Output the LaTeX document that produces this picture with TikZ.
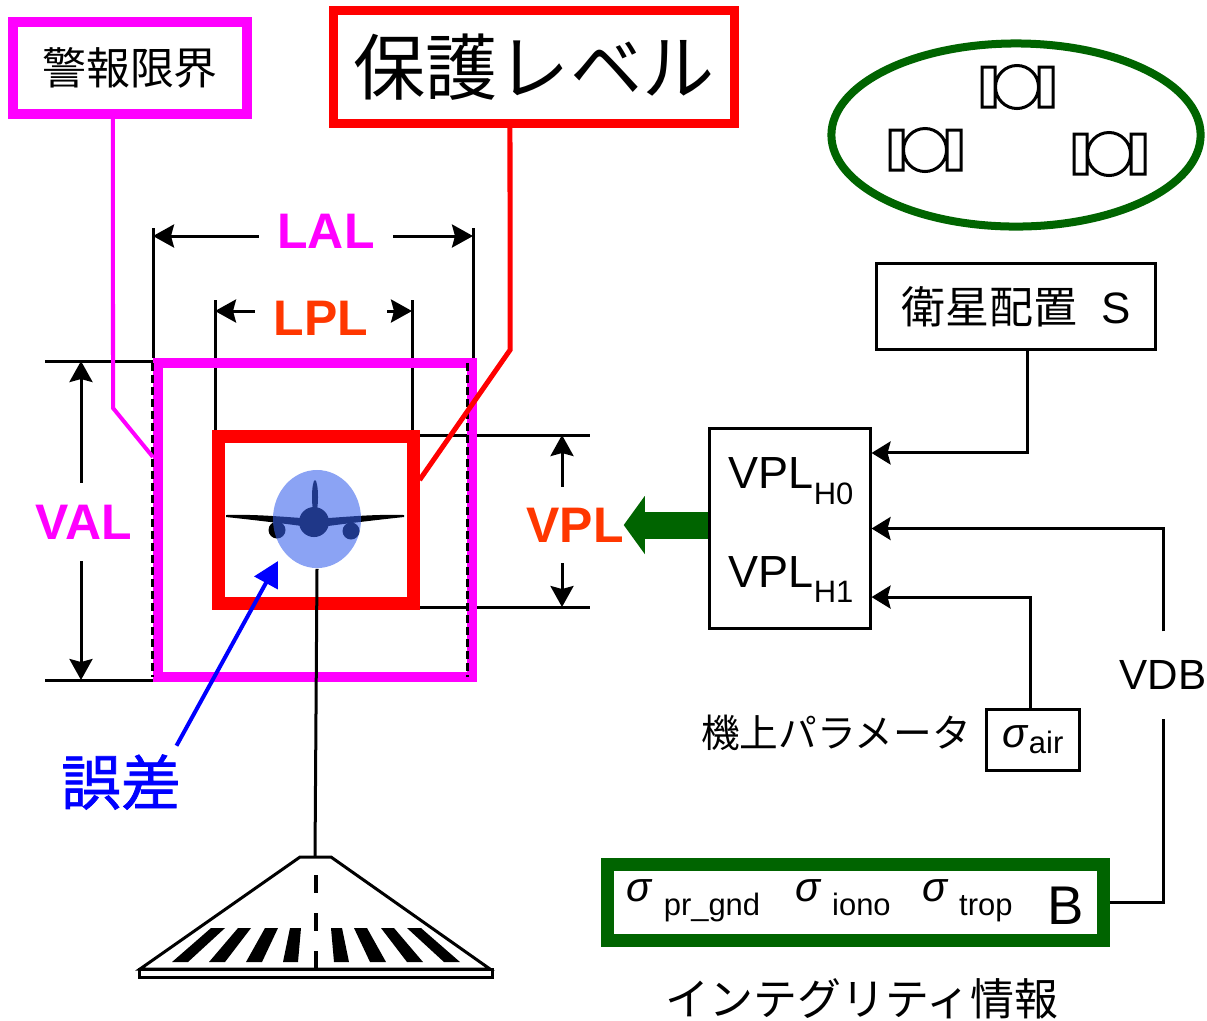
\documentclass[tikz,border=0pt]{standalone}
\usepackage{fontspec}
\setmainfont{Liberation Sans}
\newfontfamily\jp{Noto Sans CJK JP}
\newfontfamily\jpb{Noto Sans CJK JP}[FakeBold=1.2]
\usetikzlibrary{arrows.meta,shapes.geometric}
\definecolor{mag}{RGB}{255,0,255}
\definecolor{plred}{RGB}{255,0,0}
\definecolor{orred}{RGB}{255,55,0}
\definecolor{dgreen}{RGB}{0,100,0}
\definecolor{errblue}{RGB}{0,0,255}
\definecolor{blobblue}{RGB}{55,96,236}
\newcommand{\fs}[1]{\fontsize{#1}{#1}\selectfont}
\newcommand{\lowsub}[2]{\raisebox{#1}{\fs{8.8}#2}}
\newcommand{\sig}[1]{\raisebox{6.3pt}{\fs{11.8}\textit{σ}}\hspace{3pt}\raisebox{2.4pt}{\fs{8.8}#1}}
\tikzset{
  thinln/.style={line width=0.03cm},
  dim/.style={line width=0.03cm,
    {Stealth[length=0.21cm,width=0.23cm,inset=0.03cm]}-{Stealth[length=0.21cm,width=0.23cm,inset=0.03cm]}},
  feed/.style={line width=0.03cm, -{Stealth[length=0.19cm,width=0.23cm,inset=0.03cm]}},
  dimlbl/.style={fill=white, font=\bfseries\fs{14.2}, inner sep=0pt},
  plainbox/.style={draw, line width=0.03cm, inner sep=0pt},
}
\begin{document}
\begin{tikzpicture}[x=0.01cm,y=-0.01cm]
\useasboundingbox (0,0) rectangle (1207,1020);
%
\node[draw=mag, line width=0.1cm, minimum width=2.34cm, minimum height=0.91cm, font=\jp\fs{12.5}] (alarm) at (130,68) {警報限界};
\node[draw=plred, line width=0.09cm, minimum width=4cm, minimum height=1.13cm, font=\jp\fs{20.5}] (protect) at (534,67) {保護レベル};
%
\draw[thinln] (153,228) -- (153,358) (473,228) -- (473,358);
\draw[dim] (153,236) -- (473,236);
\node[dimlbl, text=mag, minimum width=1.33cm, minimum height=0.75cm] (lal) at (326,231) {LAL};
%
\draw[thinln] (215,300) -- (215,431) (412,300) -- (412,431);
\draw[dim] (215,311) -- (412,311);
\node[dimlbl, text=orred, minimum width=1.31cm, minimum height=0.78cm] (lpl) at (321,318) {LPL};
%
\draw[thinln] (45,361) -- (153,361) (45,680) -- (153,680);
\draw[dim] (81,361) -- (81,680);
\node[dimlbl, text=mag, minimum width=0.95cm, minimum height=0.78cm] (val) at (84,522) {VAL};
%
\draw[thinln] (420,435) -- (590,435) (420,607) -- (590,607);
\draw[dim] (562,435) -- (562,607);
\node[dimlbl, text=orred, minimum width=1.36cm, minimum height=0.76cm] (vpl) at (575,525) {VPL};
%
\node[draw=mag, line width=0.1cm, minimum width=3.14cm, minimum height=3.14cm] (albox) at (315,520) {};
\draw[thinln, dash pattern=on 0.08cm off 0.04cm] (152,363) -- (152,677) (467,363) -- (467,677);
\node[draw=plred, line width=0.13cm, minimum width=1.94cm, minimum height=1.66cm] (plbox) at (316,520) {};
%
\draw[mag, line width=0.04cm] ([xshift=-0.17cm]alarm.south) -- (113,408) -- ([yshift=0.63cm]albox.west);
\draw[plred, line width=0.05cm] ([xshift=-0.24cm]protect.south) -- (510,350) -- ([yshift=0.4cm]plbox.east);
%
% aircraft
\fill (226,515) .. controls (255,514) and (285,517) .. (302,518) -- (302,526) .. controls (280,523) and (245,519) .. (226,517) -- cycle;
\fill (404,515) .. controls (375,514) and (345,517) .. (328,518) -- (328,526) .. controls (350,523) and (385,519) .. (404,517) -- cycle;
\fill (314,522) circle [radius=0.15cm];
\fill (315,497) ellipse [x radius=0.03cm, y radius=0.17cm];
\fill (277,530) circle [radius=0.085cm] (351,531) circle [radius=0.085cm];
\node[ellipse, fill=blobblue, fill opacity=0.58, minimum width=0.88cm, minimum height=0.98cm, inner sep=0] (blob) at (317,519) {};
%
% runway
\coordinate (rwtop) at (315,857);
\draw[thinln] (blob.south) -- (rwtop);
\draw[thinln] (300,857) -- (331,857) -- (490,969) -- (140,969) -- cycle;
\draw[thinln] (139,969) rectangle (492,977);
\draw[line width=0.04cm, dash pattern=on 0.18cm off 0.2cm] (316,875) -- (316,969);
\foreach \tl/\tr/\bl/\br in {211/225/172/188, 238/251/209/225, 265/278/246/262, 290/301/283/298}{
  \fill (\tl,928) -- (\tr,928) -- (\br,962) -- (\bl,962) -- cycle;
  \fill (632-\tr,928) -- (632-\tl,928) -- (632-\bl,962) -- (632-\br,962) -- cycle;
}
%
% satellites
\draw[dgreen, line width=0.08cm] (1016,135) ellipse [x radius=1.845cm, y radius=0.915cm];
\foreach \sx/\sy in {1017/87, 925/150, 1109/154}{
  \draw[thinln] (\sx-35,\sy-20) rectangle (\sx-22,\sy+20)
    (\sx+22,\sy-20) rectangle (\sx+36,\sy+20)
    (\sx,\sy) circle [radius=0.215cm];
}
%
\node[plainbox, minimum width=1.6cm, minimum height=1.99cm] (vplbox) at (790,528.5) {};
\node[anchor=base west, font=\fs{12.8}, inner sep=0] (h0) at (728,488) {VPL\lowsub{-4.8pt}{H0}};
\node[anchor=base west, font=\fs{12.8}, inner sep=0] (h1) at (728,587) {VPL\lowsub{-4.3pt}{H1}};
\draw[dgreen, line width=0.27cm, -{Triangle[length=0.21cm,width=0.58cm,line width=0pt]}] (vplbox.west |- vpl.east) -- ([xshift=-0.2cm]vpl.east);
%
\node[plainbox, minimum width=2.78cm, minimum height=0.85cm, font=\jp\fs{12.5}] (satbox) at (1016,306.5) {衛星配置\hspace{7pt}\normalfont S};
\draw[feed] ([xshift=0.11cm]satbox.south) |- ([yshift=0.755cm]vplbox.east);
%
\node[font=\fs{12}, minimum height=0.86cm, inner sep=0] (vdb) at (1163,675) {VDB};
\draw[feed] (vdb.north) |- (vplbox.east);
%
\node[plainbox, minimum width=0.92cm, minimum height=0.61cm] (airbox) at (1033,739.5) {\fs{11.8}\textit{σ}\lowsub{-1.8pt}{air}};
\draw[feed] ([xshift=-0.03cm]airbox.north) |- ([yshift=-0.685cm]vplbox.east);
\node[font=\jp\fs{11}] (onboard) at (836,733) {機上パラメータ};
%
\node[draw=dgreen, line width=0.13cm, minimum width=4.95cm, minimum height=0.76cm, inner sep=0] (gbox) at (855.5,902)
  {\sig{pr\_gnd}\hspace{10pt}\sig{iono}\hspace{9pt}\sig{trop}\hspace{10pt}{\fs{15.5}B}};
\draw[thinln] (gbox.east) -| (vdb.south);
\node[font=\jp\fs{12.5}] (integ) at (862,999) {インテグリティ情報};
%
\node[font=\jpb\fs{17}, text=errblue, inner sep=0] (errlbl) at (121,782) {誤差};
\coordinate (errtip) at (278,561);
\draw[errblue, line width=0.04cm, -{Triangle[length=0.25cm,width=0.26cm]}] ([shift={(-0.05cm,0.08cm)}]errlbl.north east) -- (errtip);
\end{tikzpicture}
\end{document}
